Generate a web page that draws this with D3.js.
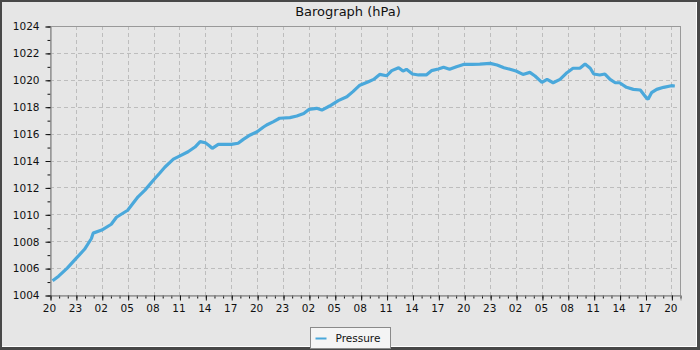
<!DOCTYPE html>
<html>
<head>
<meta charset="utf-8">
<script src="https://cdn.jsdelivr.net/npm/d3@7"></script>
<style>
  body { margin: 0; background: #484848; }
  svg { display: block; font-family: "DejaVu Sans", sans-serif; }
</style>
</head>
<body>
<div id="chart"></div>
<script>
// Data -----------------------------------------------------------------------
const chartTitle = "Barograph (hPa)";
const seriesName = "Pressure";
const startTime = new Date(2000, 0, 1, 20, 0);
const spanHours = 73;

// hours after start
const hours = [0.3, 1, 2, 3, 4, 4.8, 5, 6, 7.1, 7.7, 9, 10.2, 11, 12, 12.7, 13.3, 14.3, 15, 16, 16.8,
  17.4, 18, 18.5, 18.8, 19.5, 21, 21.8, 22.4, 23.2, 24, 24.7, 25.1, 25.9, 26.6, 27.8, 28.6, 29.4, 30,
  30.9, 31.5, 32.4, 33.4, 34.4, 35.1, 35.9, 36.9, 37.5, 38.2, 39, 39.6, 40.4, 40.9, 41.3, 42, 42.7,
  43.6, 44.2, 45, 45.6, 46.3, 47.1, 48, 48.9, 49.8, 51, 51.8, 52.6, 53.3, 54, 54.8, 55.6, 56.2, 57,
  57.6, 58.3, 59.1, 59.9, 60.6, 61.4, 62, 62.6, 63, 63.7, 64.3, 64.9, 65.5, 66, 66.8, 67.6, 68.4, 69,
  69.3, 69.7, 70.3, 71.1, 72, 72.4];

const pressure = [1005.06, 1005.4, 1006.0, 1006.7, 1007.4, 1008.2, 1008.6, 1008.83, 1009.26, 1009.78,
  1010.3, 1011.3, 1011.8, 1012.55, 1013.05, 1013.5, 1014.1, 1014.33, 1014.65, 1015.0, 1015.4, 1015.32,
  1015.08, 1014.9, 1015.2, 1015.2, 1015.28, 1015.57, 1015.9, 1016.14, 1016.47, 1016.64, 1016.89,
  1017.14, 1017.19, 1017.31, 1017.5, 1017.8, 1017.88, 1017.75, 1018.05, 1018.45, 1018.74, 1019.12,
  1019.6, 1019.86, 1020.03, 1020.4, 1020.3, 1020.68, 1020.9, 1020.65, 1020.78, 1020.43, 1020.36,
  1020.36, 1020.68, 1020.8, 1020.93, 1020.78, 1020.97, 1021.15, 1021.15, 1021.17, 1021.22, 1021.1,
  1020.9, 1020.78, 1020.65, 1020.4, 1020.55, 1020.28, 1019.81, 1020.03, 1019.78, 1020.03, 1020.53,
  1020.86, 1020.86, 1021.17, 1020.86, 1020.43, 1020.36, 1020.43, 1020.03, 1019.78, 1019.78, 1019.44,
  1019.29, 1019.24, 1018.74, 1018.55, 1019.04, 1019.29, 1019.44, 1019.56, 1019.54];

const yMin = 1004;
const yMax = 1024;

// Canvas ---------------------------------------------------------------------
const canvasWidth = 700;
const canvasHeight = 350;
const leftPadding = 50;
const rightPadding = 20;
const topPadding = 26;
const bottomPadding = 55;

const svg = d3.select("#chart")
  .append("svg")
  .attr("width", canvasWidth)
  .attr("height", canvasHeight);

// frame: dark edge, light face, white inner bevel on right/bottom
svg.append("rect")
  .attr("width", canvasWidth).attr("height", canvasHeight)
  .attr("fill", "#484848");
svg.append("rect")
  .attr("x", 2).attr("y", 2)
  .attr("width", canvasWidth - 5).attr("height", canvasHeight - 5)
  .attr("fill", "#ffffff");
svg.append("rect")
  .attr("x", 2).attr("y", 2)
  .attr("width", canvasWidth - 6).attr("height", canvasHeight - 6)
  .attr("fill", "#e6e6e6");

// Scales ---------------------------------------------------------------------
const data = hours.map((h, i) => ({ t: d3.timeMinute.offset(startTime, Math.round(h * 60)), p: pressure[i] }));

const xScale = d3.scaleTime()
  .domain([startTime, d3.timeHour.offset(startTime, spanHours)])
  .range([leftPadding, canvasWidth - rightPadding]);
const yScale = d3.scaleLinear()
  .domain([yMin, yMax])
  .range([canvasHeight - bottomPadding, topPadding]);

const majorX = d3.range(0, spanHours, 3).map(h => d3.timeHour.offset(startTime, h));
const minorX = d3.range(0, spanHours + 1, 1).map(h => d3.timeHour.offset(startTime, h));
const majorY = d3.range(yMin, yMax + 1, 2);
const minorY = d3.range(yMin, yMax + 1, 1);

// Grid -----------------------------------------------------------------------
const grid = svg.append("g");
grid.selectAll(".gx")
  .data(majorX.slice(1))
  .join("line")
  .attr("x1", d => Math.round(xScale(d)) + 0.5)
  .attr("x2", d => Math.round(xScale(d)) + 0.5)
  .attr("y1", topPadding)
  .attr("y2", canvasHeight - bottomPadding)
  .attr("stroke", "#bdbdbd")
  .attr("stroke-dasharray", "4,3");
grid.selectAll(".gy")
  .data(majorY.slice(1, -1))
  .join("line")
  .attr("y1", d => Math.round(yScale(d)) + 0.5)
  .attr("y2", d => Math.round(yScale(d)) + 0.5)
  .attr("x1", leftPadding)
  .attr("x2", canvasWidth - rightPadding)
  .attr("stroke", "#bdbdbd")
  .attr("stroke-dasharray", "4,3");

// plot frame
svg.append("rect")
  .attr("x", leftPadding + 0.5)
  .attr("y", topPadding + 0.5)
  .attr("width", canvasWidth - rightPadding - leftPadding)
  .attr("height", canvasHeight - bottomPadding - topPadding)
  .attr("fill", "none")
  .attr("stroke", "#999999");

// Axes -----------------------------------------------------------------------
const axisFontSize = 10.5;
const fmtHour = d3.timeFormat("%H");

const yMinorAxis = svg.append("g")
  .attr("transform", "translate(" + (leftPadding + 0.5) + ",0.5)")
  .call(d3.axisLeft(yScale).tickValues(minorY).tickSize(3).tickFormat(""));
const yAxis = svg.append("g")
  .attr("transform", "translate(" + (leftPadding + 0.5) + ",0.5)")
  .call(d3.axisLeft(yScale).tickValues(majorY).tickSize(5).tickPadding(6).tickFormat(d3.format("d")));

const xMinorAxis = svg.append("g")
  .attr("transform", "translate(0.5," + (canvasHeight - bottomPadding + 0.5) + ")")
  .call(d3.axisBottom(xScale).tickValues(minorX).tickSize(3).tickFormat(""));
const xAxis = svg.append("g")
  .attr("transform", "translate(0.5," + (canvasHeight - bottomPadding + 0.5) + ")")
  .call(d3.axisBottom(xScale).tickValues(majorX).tickSize(5).tickPadding(4).tickFormat(fmtHour));
xAxis.selectAll("text").attr("dx", -1.5);

[yMinorAxis, yAxis, xMinorAxis, xAxis].forEach(function(ax) {
  ax.select(".domain").attr("stroke", "#999999");
  ax.selectAll(".tick line").attr("stroke", "#111111");
  ax.selectAll("text")
    .attr("fill", "#111111")
    .style("font-family", "DejaVu Sans")
    .style("font-size", axisFontSize);
});

// Line -----------------------------------------------------------------------
const lineColor = "#4aa8db";
svg.append("path")
  .datum(data)
  .attr("fill", "none")
  .attr("stroke", lineColor)
  .attr("stroke-width", 3.2)
  .attr("stroke-linejoin", "bevel")
  .attr("d", d3.line().x(d => xScale(d.t)).y(d => yScale(d.p)));

// Title ----------------------------------------------------------------------
svg.append("text")
  .text(chartTitle)
  .attr("x", canvasWidth / 2 - 2)
  .attr("y", 16)
  .attr("text-anchor", "middle")
  .attr("fill", "#111111")
  .style("font-size", 13);

// Legend ---------------------------------------------------------------------
const legendGroup = svg.append("g")
  .attr("transform", "translate(310.5,327.5)");
legendGroup.append("rect")
  .attr("width", 80)
  .attr("height", 21)
  .attr("fill", "#f4f4f4")
  .attr("stroke", "#8a8a8a");
legendGroup.append("line")
  .attr("x1", 5).attr("x2", 16)
  .attr("y1", 11).attr("y2", 11)
  .attr("stroke", lineColor)
  .attr("stroke-width", 2);
legendGroup.append("text")
  .text(seriesName)
  .attr("x", 25)
  .attr("y", 14.5)
  .attr("fill", "#111111")
  .style("font-size", 10.5);
</script>
</body>
</html>
